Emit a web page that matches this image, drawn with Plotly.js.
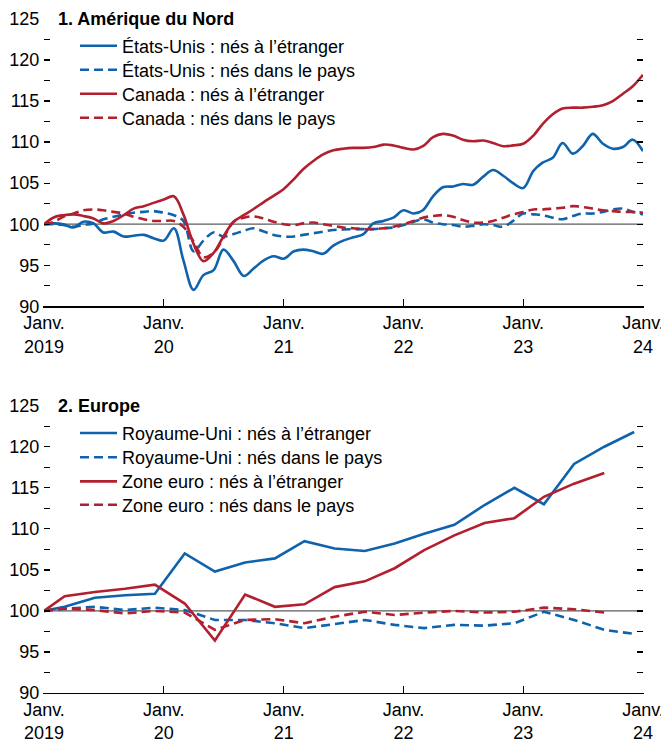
<!DOCTYPE html>
<html><head><meta charset="utf-8">
<script src="https://cdn.plot.ly/plotly-3.0.1.min.js"></script>
<style>html,body{margin:0;padding:0;background:#fff}</style>
</head><body><div id="chart" style="width:661px;height:746px"></div>
<script>
// ---------- Data ----------
// Panel 1: monthly, Jan 2019 .. Jan 2024
const usForeign = [100.0,100.1,100.0,99.6,100.3,100.1,99.0,99.1,98.5,98.6,98.7,98.3,98.0,99.5,95.6,92.0,93.8,94.4,96.9,95.5,93.7,94.6,95.6,96.1,95.8,96.7,96.9,96.7,96.4,97.4,98.0,98.4,98.8,100.1,100.4,100.8,101.7,101.3,101.7,103.4,104.5,104.6,104.9,104.8,105.8,106.6,105.9,105.0,104.4,106.5,107.5,108.1,109.9,108.6,109.5,111.0,109.8,109.2,109.4,110.3,108.9];
const usNative = [100.0,100.0,99.9,99.7,99.9,100.1,100.6,100.9,101.2,101.4,101.5,101.6,101.4,101.1,100.4,96.7,98.0,99.0,98.5,98.8,99.2,99.5,99.1,98.7,98.5,98.5,98.7,98.9,99.1,99.3,99.35,99.4,99.4,99.4,99.5,99.6,99.9,100.3,100.6,100.2,100.0,99.9,99.7,99.8,100.0,99.9,99.7,100.4,101.3,101.2,101.1,100.8,100.6,101.0,101.3,101.3,101.5,101.8,101.9,101.5,101.2];
const canForeign = [100.0,100.85,101.1,101.2,101.0,100.7,100.1,100.4,101.1,101.9,102.2,102.6,103.0,103.4,101.2,97.6,95.5,96.5,98.5,100.3,101.1,101.85,102.7,103.45,104.3,105.5,106.7,107.7,108.5,109.0,109.2,109.3,109.3,109.4,109.7,109.6,109.3,109.1,109.5,110.6,111.0,110.8,110.3,110.1,110.2,109.9,109.5,109.6,109.8,110.8,112.2,113.4,114.1,114.2,114.2,114.3,114.5,115.0,115.9,116.8,118.2];
const canNative = [100.0,100.3,100.9,101.3,101.7,101.8,101.7,101.5,101.3,100.9,100.6,100.4,100.4,100.4,99.7,97.9,96.0,96.5,98.3,100.3,100.8,100.95,100.7,100.3,100.0,99.9,100.1,100.2,100.0,99.8,99.6,99.5,99.4,99.4,99.5,99.7,100.0,100.4,100.8,101.0,101.1,100.9,100.5,100.2,100.2,100.4,100.8,101.2,101.5,101.8,101.8,101.9,102.0,102.2,102.1,101.9,101.7,101.6,101.5,101.5,101.4];

// Panel 2: quarterly
const quarterDates = ["2019-01-01","2019-03-05","2019-06-05","2019-09-05","2019-12-05","2020-03-05","2020-06-05","2020-09-05","2020-12-05","2021-03-05","2021-06-05","2021-09-05","2021-12-05","2022-03-05","2022-06-05","2022-09-05","2022-12-05","2023-03-05","2023-06-05","2023-09-05","2023-12-05"];
const ukForeign = [100.0,100.5,101.6,101.9,102.1,107.0,104.8,105.9,106.4,108.5,107.6,107.3,108.2,109.4,110.5,112.9,115.0,113.0,117.9,120.0,121.8];
const ukNative = [100.0,100.25,100.5,100.1,100.4,100.1,98.9,98.9,98.5,97.9,98.4,98.9,98.3,97.9,98.3,98.2,98.5,99.9,98.9,97.7,97.2];
const euForeign = [100.0,101.8,102.3,102.7,103.2,100.9,96.4,102.0,100.5,100.8,102.9,103.6,105.2,107.4,109.2,110.7,111.3,113.9,115.5,116.8];
const euNative = [100.0,100.3,100.1,99.7,100.0,99.8,97.7,98.9,99.0,98.5,99.3,99.9,99.5,99.8,100.0,99.8,99.9,100.4,100.2,99.8];

const names1 = ["États-Unis : nés à l’étranger","États-Unis : nés dans le pays","Canada : nés à l’étranger","Canada : nés dans le pays"];
const names2 = ["Royaume-Uni : nés à l’étranger","Royaume-Uni : nés dans le pays","Zone euro : nés à l’étranger","Zone euro : nés dans le pays"];
const panelTitles = ["1. Amérique du Nord","2. Europe"];
const yearTickVals = ["2019-01-01","2020-01-01","2021-01-01","2022-01-01","2023-01-01","2024-01-01"];
const yearTickText = ["Janv.<br>2019","Janv.<br>20","Janv.<br>21","Janv.<br>22","Janv.<br>23","Janv.<br>24"];
const yTickVals = [90,95,100,105,110,115,120,125];
const yMinorVals = [92.5,97.5,102.5,107.5,112.5,117.5,122.5];

// monthly date categories
const months = [];
for (let y = 2019; y <= 2024; y++) {
  for (let m = 1; m <= 12; m++) {
    if (y === 2024 && m > 1) break;
    months.push(y + "-" + String(m).padStart(2, "0") + "-01");
  }
}

// ---------- Style ----------
const FONT = "'Liberation Sans', Arial, sans-serif";
const FS = 18;
const BLUE = "#0f63ad";
const RED = "#b21f2f";
const LW = 2.6;
const DASH = "9px,5px";

function tr(x, y, name, color, dash, xa, ya, leg, shape) {
  return {
    x: x, y: y, name: name, type: "scatter", mode: "lines",
    line: {color: color, width: LW, dash: dash, shape: shape, smoothing: 1},
    xaxis: xa, yaxis: ya, legend: leg, hoverinfo: "skip", showlegend: true
  };
}

const data = [
  tr(months, usForeign, names1[0], BLUE, "solid", "x", "y", "legend", "spline"),
  tr(months, usNative, names1[1], BLUE, DASH, "x", "y", "legend2", "spline"),
  tr(months, canForeign, names1[2], RED, "solid", "x", "y", "legend3", "spline"),
  tr(months, canNative, names1[3], RED, DASH, "x", "y", "legend4", "spline"),
  tr(quarterDates, ukForeign, names2[0], BLUE, "solid", "x2", "y2", "legend5", "linear"),
  tr(quarterDates, ukNative, names2[1], BLUE, DASH, "x2", "y2", "legend6", "linear"),
  tr(quarterDates.slice(0, euForeign.length), euForeign, names2[2], RED, "solid", "x2", "y2", "legend7", "linear"),
  tr(quarterDates.slice(0, euNative.length), euNative, names2[3], RED, DASH, "x2", "y2", "legend8", "linear")
];

const H = 746, MT = 19, MB = 53;
const PH = H - MT - MB;
function py(p) { return (H - MB - p) / PH; }   // pixel y -> paper y
const ML = 44, MR = 18, PW = 661 - ML - MR;
function px(p) { return (p - ML) / PW; }

function xAxis(anchor) {
  return {
    anchor: anchor, type: "date", range: ["2019-01-01", "2024-01-01 02:00"],
    tickmode: "array", tickvals: yearTickVals, ticktext: yearTickText,
    ticks: "inside", ticklen: 7, tickwidth: 1.3, tickcolor: "#000",
    ticklabeloverflow: "allow",
    showline: true, linecolor: "#000", linewidth: 1.3,
    showgrid: false, zeroline: false, tickangle: 0,
    tickfont: {family: FONT, size: FS, color: "#000"}
  };
}
function yAxis(anchor, domain) {
  return {
    anchor: anchor, domain: domain, range: [90, 125],
    tickmode: "array", tickvals: yTickVals,
    ticks: "inside", ticklen: 6, tickwidth: 1.3, tickcolor: "#000",
    showline: true, linecolor: "rgba(0,0,0,0)", linewidth: 1, mirror: "ticks",
    minor: {tickvals: yMinorVals, ticks: "inside", ticklen: 6, tickwidth: 1.3, tickcolor: "#000", showgrid: false},
    showgrid: false, zeroline: false,
    tickfont: {family: FONT, size: FS, color: "#000"}
  };
}

const layout = {
  width: 661, height: 746,
  margin: {l: ML, r: MR, t: MT, b: MB},
  paper_bgcolor: "#fff", plot_bgcolor: "#fff",
  font: {family: FONT, size: FS, color: "#000"},
  showlegend: true,
  xaxis: xAxis("y"),
  yaxis: yAxis("x", [py(306.3), 1]),
  xaxis2: xAxis("y2"),
  yaxis2: yAxis("x2", [0, py(405.7)]),
  shapes: [
    {type: "line", xref: "x domain", yref: "y", x0: 0, x1: 1, y0: 100, y1: 100, line: {color: "#5b5b5b", width: 1.3}, layer: "below"},
    {type: "line", xref: "x2 domain", yref: "y2", x0: 0, x1: 1, y0: 100, y1: 100, line: {color: "#5b5b5b", width: 1.3}, layer: "below"}
  ],
  annotations: [
    {text: "<b>" + panelTitles[0] + "</b>", xref: "paper", yref: "y", x: px(56), y: 125, xanchor: "left", yanchor: "middle", showarrow: false, font: {family: FONT, size: FS, color: "#000"}},
    {text: "<b>" + panelTitles[1] + "</b>", xref: "paper", yref: "y2", x: px(56), y: 125, xanchor: "left", yanchor: "middle", showarrow: false, font: {family: FONT, size: FS, color: "#000"}}
  ],
  hovermode: false
};

const rowsPx = [46, 70, 94, 118, 433.3, 457.5, 481.7, 505];
const legNames = ["legend","legend2","legend3","legend4","legend5","legend6","legend7","legend8"];
legNames.forEach(function (ln, i) {
  layout[ln] = {
    x: px(75), y: py(rowsPx[i]), xanchor: "left", yanchor: "middle",
    bgcolor: "rgba(0,0,0,0)", borderwidth: 0, itemwidth: 37,
    font: {family: FONT, size: FS, color: "#000"}
  };
});

Plotly.newPlot("chart", data, layout, {staticPlot: true, displayModeBar: false});
</script>
</body></html>
